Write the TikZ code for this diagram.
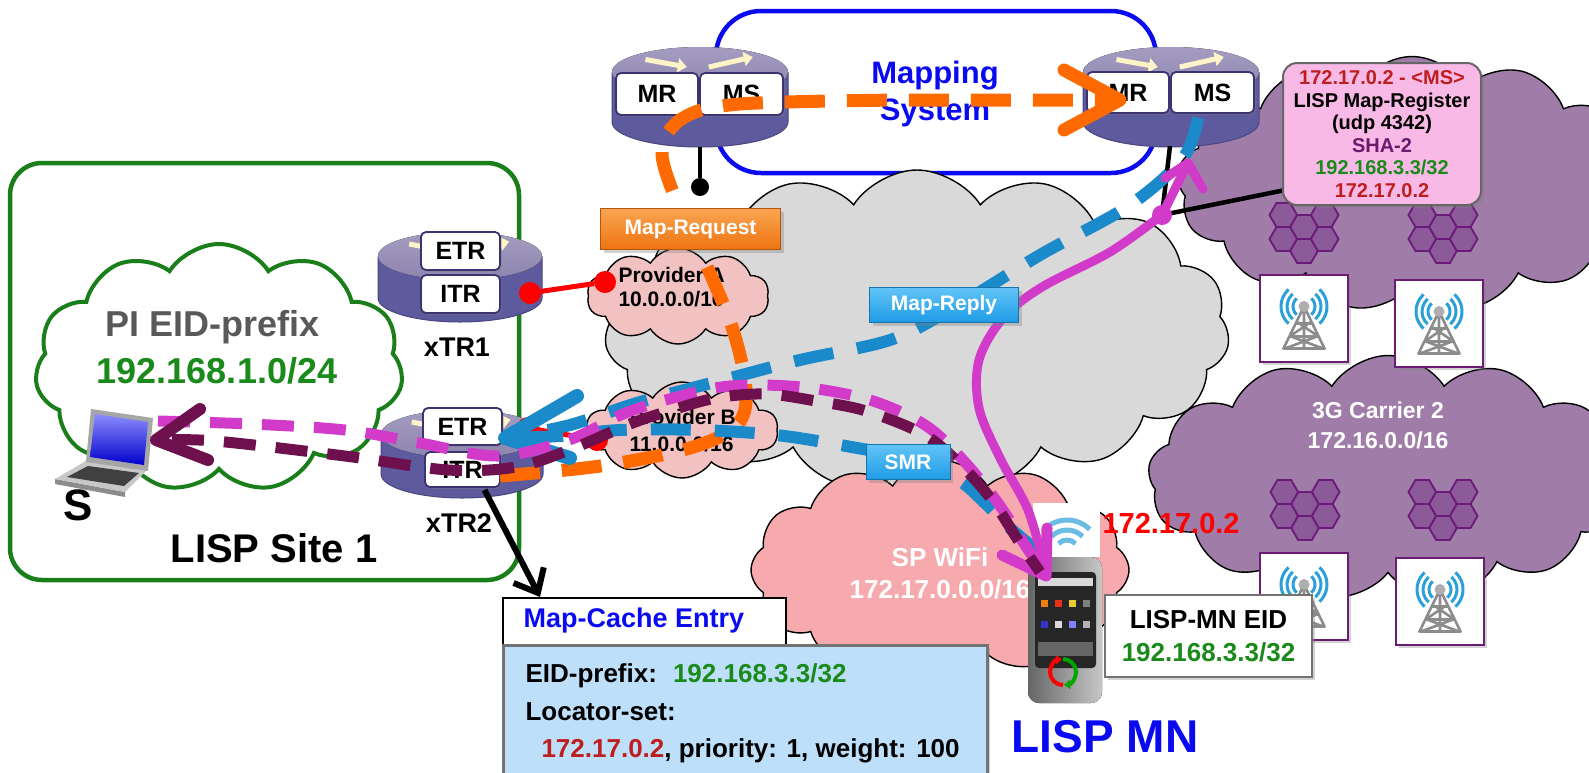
\documentclass[tikz,border=0pt]{standalone}
\usepackage{fontspec}
\setmainfont{Liberation Sans}
\usetikzlibrary{shapes.symbols,shadows,arrows.meta}

\definecolor{msblue}{HTML}{0A0AF0}
\definecolor{sitegreen}{HTML}{1A7F1A}
\definecolor{txtgreen}{HTML}{1A8A1A}
\definecolor{dkred}{HTML}{BE1E1E}
\definecolor{rtrside}{HTML}{5E5A9E}
\definecolor{rtredge}{HTML}{4A467F}
\definecolor{rtrtopA}{HTML}{A49CC0}
\definecolor{rtrtopB}{HTML}{8C84AE}
\definecolor{arrowylw}{HTML}{FFF4C8}
\definecolor{boxedge}{HTML}{3C3470}
\definecolor{grayc}{HTML}{D9D9D9}
\definecolor{provpink}{HTML}{F2C2C2}
\definecolor{wifipink}{HTML}{F6AAAD}
\definecolor{carrier}{HTML}{A07CA8}
\definecolor{hexfill}{HTML}{8C5A98}
\definecolor{hexedge}{HTML}{6A1B7A}
\definecolor{towerpurple}{HTML}{6C1D73}
\definecolor{regpink}{HTML}{F8B9E6}
\definecolor{shapurple}{HTML}{6B1A6B}
\definecolor{reqorange}{HTML}{FF6A00}
\definecolor{replyblue}{HTML}{1B8ACB}
\definecolor{datamag}{HTML}{D23BC9}
\definecolor{datapurple}{HTML}{6E0F4E}
\definecolor{cacheblue}{HTML}{BEDFFA}
\definecolor{lblorange}{HTML}{EE7410}
\definecolor{lblorangeT}{HTML}{FAA552}
\definecolor{lblblue}{HTML}{1E9BE6}
\definecolor{lblblueT}{HTML}{62C4F7}
\definecolor{wavblue}{HTML}{2AA0D8}
\definecolor{towergray}{HTML}{8C8C8C}
\definecolor{pigray}{HTML}{595959}

\newcommand\fsz[1]{\fontsize{#1}{#1}\selectfont\bfseries}
\newcommand\fszb[2]{\fontsize{#1}{#2}\selectfont\bfseries}

% router cylinder: centre x, top ellipse centre y, x radius, y radius, side height
\newcommand\routerbody[5]{%
  \fill[rtrside] (#1-#3,#2) -- (#1-#3,#2+#5)
    arc[start angle=180,end angle=0,x radius=#3,y radius=#4] -- (#1+#3,#2) -- cycle;
  \draw[rtredge,line width=1pt] (#1-#3,#2) -- (#1-#3,#2+#5)
    arc[start angle=180,end angle=0,x radius=#3,y radius=#4] -- (#1+#3,#2);
  \fill[top color=rtrtopA,bottom color=rtrtopB] (#1,#2) ellipse[x radius=#3,y radius=#4];
  \draw[arrowylw,line width=5pt,-{Triangle[length=9pt,width=14pt]}]
    (#1-0.62*#3,#2-0.5*#4) -- (#1-0.15*#3,#2-0.2*#4);
  \draw[arrowylw,line width=5pt,-{Triangle[length=9pt,width=14pt]}]
    (#1+0.1*#3,#2-0.2*#4) -- (#1+0.6*#3,#2-0.6*#4);
}

% cluster of six radio cells around a centre point
\newcommand\hexcluster[2]{%
  \begin{scope}[shift={(#1,#2)}]
    \foreach \dx/\dy in {-20.7/-18,-20.7/6,0/-6,0/18,20.7/-18,20.7/6}{
      \begin{scope}[shift={(\dx,\dy)}]
        \draw[hexcell] (0:13.8) -- (60:13.8) -- (120:13.8) -- (180:13.8)
          -- (240:13.8) -- (300:13.8) -- cycle;
      \end{scope}}
  \end{scope}}

% cell tower tile: left x, top y, node name
\newcommand\towertile[3]{%
  \node[draw=towerpurple,line width=2.5pt,fill=white,minimum width=88pt,
    minimum height=87pt,inner sep=0pt,softshadow] (#3) at (#1+44,#2+43.5) {};
  \begin{scope}[shift={(#1+44,#2+43.5)}]
    \foreach \r in {11,17,23}{
      \draw[wavblue,line width=3pt] (0,-12) ++(-48:\r) arc[start angle=-48,end angle=48,radius=\r];
      \draw[wavblue,line width=3pt] (0,-12) ++(132:\r) arc[start angle=132,end angle=228,radius=\r];}
    \draw[towergray,line width=2.6pt,line join=round]
      (-2,-8) -- (-21,31) (2,-8) -- (21,31)
      (-8,5) -- (8,5) (-14,18) -- (14,18) (-20,30) -- (20,30)
      (-6,4) -- (13,17) (6,4) -- (-13,17) (-13,18) -- (19,30) (13,18) -- (-19,30)
      (0,-8) -- (0,31);
    \fill[towergray!70!white] (0,-12) circle[radius=5.5];
  \end{scope}}

\begin{document}
\begin{tikzpicture}[x=1pt,y=-1pt,
  softshadow/.style={drop shadow={shadow xshift=3pt,shadow yshift=-3pt,opacity=.35}},
  rbox/.style={draw=boxedge,line width=1.8pt,fill=white,rounded corners=5pt,inner sep=0pt,
    font=\fsz{25},drop shadow={shadow xshift=2pt,shadow yshift=-2pt,opacity=.35}},
  cloudshape/.style={cloud,cloud puffs=#1,cloud puff arc=115,cloud ignores aspect,
    inner sep=0pt,draw=black,line width=1.4pt},
  reqline/.style={draw=reqorange,line width=13pt,dash pattern=on 40pt off 22pt},
  replyline/.style={draw=replyblue,line width=12pt,dash pattern=on 40pt off 24pt},
  magline/.style={draw=datamag,line width=11pt,dash pattern=on 32pt off 20pt},
  purpline/.style={draw=datapurple,line width=11pt,dash pattern=on 32pt off 20pt},
  chevron/.style={line width=#1,line cap=round,line join=round},
  lbl/.style 2 args={draw=#1!75!black,line width=1pt,top color=#2,bottom color=#1,
    text=white,font=\fsz{21},inner sep=0pt,softshadow},
  hexcell/.style={fill=hexfill,draw=hexedge,line width=1.8pt},
]
\useasboundingbox (0,0) rectangle (1589,772);
\clip (0,0) rectangle (1589,772);
\fill[white] (0,0) rectangle (1589,772);

% ---------- mapping system frame ----------
\draw[msblue,line width=4.5pt,rounded corners=45pt] (716,11) rectangle (1156,173);
\node[font=\fszb{31}{37},text=msblue,align=center] (mstext) at (935,94) {Mapping\\System};

% ---------- clouds ----------
\node[cloudshape=13,fill=carrier,minimum width=470pt,minimum height=255pt] (carrier1) at (1412,184) {};
\node[cloudshape=13,fill=carrier,minimum width=480pt,minimum height=245pt] (carrier2) at (1388,478) {};
\node[cloudshape=15,fill=grayc,minimum width=625pt,minimum height=320pt] (core) at (917,330) {};
\node[cloudshape=10,fill=provpink,minimum width=182pt,minimum height=96pt] (provA) at (678,296) {};
\node[cloudshape=10,fill=provpink,minimum width=192pt,minimum height=96pt] (provB) at (682,430) {};
\node[cloudshape=12,fill=wifipink,minimum width=378pt,minimum height=220pt] (spwifi) at (940,570) {};

\node[text=white,align=center,font=\fszb{23}{30}] (c2text) at (1378,425) {3G Carrier 2\\172.16.0.0/16};
\node[anchor=west,align=left,font=\fszb{21}{24}] (provAtext) at (615,287) {Provider A\\10.0.0.0/16};
\node[anchor=west,align=left,font=\fszb{21}{27}] (provBtext) at (626,431) {Provider B\\11.0.0.0/16};
\node[text=white,align=center,font=\fszb{26}{32}] (wifitext) at (940,573) {SP WiFi\\172.17.0.0.0/16};

% ---------- radio access ----------
\hexcluster{1304}{233}
\hexcluster{1443}{233}
\hexcluster{1305}{510}
\hexcluster{1443}{510}
\towertile{1260}{275}{towerA}
\towertile{1395}{280}{towerB}
\towertile{1260}{553}{towerC}
\towertile{1396}{558}{towerD}

% ---------- mapping system routers ----------
\routerbody{700}{72}{88}{25}{50}
\node[rbox,minimum width=82pt,minimum height=42pt] (mrL) at (657,94) {MR};
\node[rbox,minimum width=83pt,minimum height=42pt] (msL) at (741.5,94) {MS};
\routerbody{1171}{72}{88}{25}{50}
\node[rbox,minimum width=82pt,minimum height=41pt] (mrR) at (1128,92.5) {MR};
\node[rbox,minimum width=83pt,minimum height=41pt] (msR) at (1212.5,92.5) {MS};

% router attachments
\coordinate (attL) at (700,147);
\node[circle,fill=black,inner sep=0pt,minimum size=18pt] (dotL) at (700,187) {};
\draw[line width=4pt] (attL) -- (dotL);
\coordinate (attR) at (1170,146);
\coordinate (regjoin) at (1295,188);
\node[circle,fill=black,inner sep=0pt,minimum size=18pt] (dotR) at (1162,215) {};
\draw[line width=4.5pt] (attR) -- (dotR) -- (regjoin);

% ---------- map-register box ----------
\node[draw=black!60,line width=2pt,fill=regpink,rounded corners=14pt,minimum width=198pt,
  minimum height=142pt,align=center,font=\fszb{20}{22.5},softshadow] (regbox) at (1382,134)
  {{\color{dkred}172.17.0.2 - <MS>}\\LISP Map-Register\\(udp 4342)\\{\color{shapurple}SHA-2}\\
   {\color{txtgreen}192.168.3.3/32}\\{\color{dkred}172.17.0.2}};

% ---------- LISP site 1 ----------
\draw[sitegreen,line width=4.5pt,rounded corners=32pt] (10,163) rectangle (519,580);
\node[cloudshape=11,fill=white,draw=sitegreen,line width=4pt,minimum width=368pt,minimum height=248pt] (eidcloud) at (219,368) {};
\node[text=pigray,font=\fsz{36}] (pitext) at (213,327) {PI EID-prefix};
\node[text=txtgreen,font=\fsz{36}] (pinet) at (217,371) {192.168.1.0/24};
\node[font=\fsz{40}] (sitetext) at (274,548) {LISP Site 1};

\routerbody{460}{256}{82}{24}{42}
\node[rbox,minimum width=79pt,minimum height=38pt] (etr1) at (460.5,251) {ETR};
\node[rbox,minimum width=79pt,minimum height=38pt] (itr1) at (460.5,294) {ITR};
\node[font=\fsz{27}] (xtr1) at (457,347) {xTR1};
\routerbody{462}{434}{81}{24}{40}
\node[rbox,minimum width=79pt,minimum height=37pt] (etr2) at (462.5,426.5) {ETR};
\node[rbox,minimum width=75pt,minimum height=35pt] (itr2) at (462.5,469.5) {ITR};
\node[font=\fsz{27}] (xtr2) at (459,523) {xTR2};

% laptop S
\fill[black!45] (55,479) -- (125,492) -- (125,497) -- (55,484) -- cycle;
\fill[black!22] (86,461) -- (147,470) -- (125,492) -- (55,479) -- cycle;
\fill[black!75] (88,466) -- (139,473) -- (124,486) -- (67,477) -- cycle;
\fill[black!35] (91,409) -- (153,418) -- (148,471) -- (86,462) -- cycle;
\shade[top color=blue!45!white,bottom color=blue!80!black] (95,414) -- (148,422) -- (144,465) -- (90,457) -- cycle;
\node[font=\fsz{44}] (stext) at (78,505) {S};

% provider links
\node[circle,fill=red,inner sep=0pt,minimum size=22pt] (rA1) at (530,293) {};
\node[circle,fill=red,inner sep=0pt,minimum size=22pt] (rA2) at (605,282) {};
\draw[red,line width=5pt] (rA1) -- (rA2);
\node[circle,fill=red,inner sep=0pt,minimum size=22pt] (rB1) at (528,428) {};
\node[circle,fill=red,inner sep=0pt,minimum size=22pt] (rB2) at (597,440) {};
\draw[red,line width=5pt] (rB1) -- (rB2);

% ---------- map-cache entry ----------
\node[draw=black,line width=2.5pt,fill=white,minimum width=283pt,minimum height=47pt,inner sep=0pt] (mcehead) at (644.5,621.5) {};
\node[anchor=west,text=msblue,font=\fsz{27}] (mcetitle) at (520,621) {Map-Cache Entry};
\node[draw=black!55,line width=3pt,fill=cacheblue,minimum width=484pt,minimum height=150pt,inner sep=0pt,softshadow] (mcebody) at (745,720) {};
\node[anchor=base west,font=\fsz{26}] (mceline1) at (522,682) {EID-prefix:\hspace{16pt}{\color{txtgreen}192.168.3.3/32}};
\node[anchor=base west,font=\fsz{26}] (mceline2) at (522,720) {Locator-set:};
\node[anchor=base west,font=\fsz{26}] (mceline3) at (538,757) {{\color{dkred}172.17.0.2}, priority: 1, weight: 100};
\coordinate (cachetip) at (540,597);
\draw[line width=6pt,-{Straight Barb[length=20pt,width=34pt,line width=6pt]}] (itr2.south) ++(22,2) -- (cachetip);

% ---------- mobile node ----------
\fill[white] (1033,503) rectangle (1100,557);
\foreach \r in {12,22,32}
  \draw[wavblue!70,line width=5pt] (1067,552) ++(225:\r) arc[start angle=225,end angle=315,radius=\r];
\fill[rounded corners=11pt,left color=black!60,right color=black!22] (1028,557) rectangle (1102,703);
\fill[rounded corners=4pt,black!85] (1035,572) rectangle (1096,668);
\fill[black!15] (1038,578) rectangle (1093,586);
\foreach \ix/\c in {0/orange!70!brown,1/red!60!brown,2/yellow!60!brown,3/gray}
  \fill[\c] (1041+14*\ix,600) rectangle (1048+14*\ix,607);
\foreach \ix/\c in {0/blue!60!gray,1/white!70!gray,2/blue!50!white,3/gray!60}
  \fill[\c] (1041+14*\ix,621) rectangle (1048+14*\ix,628);
\fill[black!60] (1038,642) rectangle (1093,656);
\draw[red,line width=4pt,-{Triangle[length=6pt,width=9pt]}] (1063,672) ++(90:13) arc[start angle=90,end angle=265,radius=13];
\draw[green!65!black,line width=4pt,-{Triangle[length=6pt,width=9pt]}] (1063,672) ++(-90:13) arc[start angle=-90,end angle=85,radius=13];
\coordinate (phone) at (1046,576);
\node[anchor=west,text=red,font=\fsz{29}] (mnrloc) at (1099,524) {172.17.0.2};
\node[draw=black!55,line width=2pt,fill=white,minimum width=207pt,minimum height=82pt,align=center,
  font=\fszb{26}{33},softshadow] (mneid) at (1208.5,636) {LISP-MN EID\\{\color{txtgreen}192.168.3.3/32}};
\node[text=msblue,font=\fsz{46}] (mnlabel) at (1105,737) {LISP MN};

% ---------- Map-Request path ----------
\coordinate (rq0) at (500,476);
\coordinate (rq1) at (600,466);
\coordinate (rq2) at (690,448);
\coordinate (rq3) at (737,425);
\coordinate (rq4) at (746,390);
\coordinate (rq5) at (733,330);
\coordinate (rq6) at (705,262);
\coordinate (rq7) at (676,200);
\coordinate (rq8) at (662,150);
\coordinate (rq9) at (683,118);
\coordinate (rq10) at (740,104);
\coordinate (rq11) at (900,100);
\coordinate (rqtip) at (1120,100);
\draw[reqline] plot[smooth,tension=0.55] coordinates {(rq0) (rq1) (rq2) (rq3) (rq4) (rq5) (rq6) (rq7) (rq8) (rq9) (rq10) (rq11)} -- (1112,100);
\draw[reqorange,chevron=13pt] (1064,70) -- (rqtip) -- (1064,130);

% ---------- Map-Reply and SMR paths ----------
\coordinate (rp0) at (1198,118);
\coordinate (rp1) at (1183,158);
\coordinate (rp2) at (1130,205);
\coordinate (rp3) at (1040,255);
\coordinate (rp4) at (950,310);
\coordinate (rp5) at (890,340);
\coordinate (rp6) at (800,360);
\coordinate (rp7) at (723,380);
\coordinate (rp8) at (640,402);
\coordinate (rp9) at (570,425);
\coordinate (replytip) at (505,438);
\draw[replyline] plot[smooth,tension=0.55] coordinates {(rp0) (rp1) (rp2) (rp3) (rp4) (rp5) (rp6) (rp7) (rp8) (rp9) (replytip)};
\coordinate (sm0) at (1040,553);
\coordinate (sm1) at (1010,528);
\coordinate (sm2) at (985,503);
\coordinate (sm3) at (955,478);
\coordinate (sm4) at (900,457);
\coordinate (sm5) at (840,445);
\coordinate (sm6) at (776,435);
\coordinate (sm7) at (700,430);
\coordinate (sm8) at (620,430);
\coordinate (sm9) at (560,436);
\draw[replyline] plot[smooth,tension=0.55] coordinates {(sm0) (sm1) (sm2) (sm3) (sm4) (sm5) (sm6) (sm7) (sm8) (sm9) (replytip)};
\draw[replyblue,chevron=14pt] (577,396) -- (replytip) -- (570,458);

% ---------- Map-Register path ----------
\coordinate (mr0) at (1044,566);
\coordinate (mr1) at (1028,510);
\coordinate (mr2) at (1000,458);
\coordinate (mr3) at (979,408);
\coordinate (mr4) at (979,360);
\coordinate (mr5) at (1003,318);
\coordinate (mr6) at (1042,287);
\coordinate (mr7) at (1110,252);
\coordinate (regtip) at (1188,163);
\draw[datamag,line width=9pt,line cap=round] plot[smooth,tension=0.55] coordinates {(mr0) (mr1) (mr2) (mr3) (mr4) (mr5) (mr6) (mr7) (dotR)} -- (regtip);
\fill[datamag] (dotR) circle[radius=10];
\draw[datamag,chevron=9pt] (1165,178) -- (regtip) -- (1203,189);

% ---------- data traffic S <-> MN ----------
\coordinate (md0) at (158,421);
\coordinate (md1) at (250,424);
\coordinate (md2) at (345,430);
\coordinate (md3) at (420,443);
\coordinate (md4) at (498,456);
\coordinate (md5) at (569,440);
\coordinate (md6) at (623,414);
\coordinate (md7) at (673,398);
\coordinate (md8) at (730,386);
\coordinate (md9) at (801,387);
\coordinate (md10) at (870,400);
\coordinate (md11) at (925,425);
\coordinate (md12) at (963,460);
\coordinate (md13) at (998,503);
\coordinate (md14) at (1025,545);
\draw[magline] plot[smooth,tension=0.55] coordinates {(md0) (md1) (md2) (md3) (md4) (md5) (md6) (md7) (md8) (md9) (md10) (md11) (md12) (md13) (md14) (phone)};
\draw[datamag,chevron=11pt] (1002,555) -- (phone) -- (1047,528);

\coordinate (dp0) at (1040,572);
\coordinate (dp1) at (1018,540);
\coordinate (dp2) at (992,500);
\coordinate (dp3) at (959,463);
\coordinate (dp4) at (923,434);
\coordinate (dp5) at (866,411);
\coordinate (dp6) at (816,401);
\coordinate (dp7) at (766,394);
\coordinate (dp8) at (716,398);
\coordinate (dp9) at (669,411);
\coordinate (dp10) at (630,424);
\coordinate (dp11) at (569,450);
\coordinate (dp12) at (516,467);
\coordinate (dp13) at (448,470);
\coordinate (dp14) at (345,456);
\coordinate (dp15) at (215,441);
\coordinate (sTip) at (156,440);
\draw[purpline,dash phase=14pt] plot[smooth,tension=0.55] coordinates {(dp0) (dp1) (dp2) (dp3) (dp4) (dp5) (dp6) (dp7) (dp8) (dp9) (dp10) (dp11) (dp12) (dp13) (dp14) (dp15) (sTip)};
\draw[datapurple,chevron=12pt] (200,409) -- (sTip) -- (208,460);

% ---------- message labels ----------
\node[lbl={lblorange}{lblorangeT},minimum width=180pt,minimum height=41pt] (reqlbl) at (690.5,229) {Map-Request};
\node[lbl={lblblue}{lblblueT},minimum width=149pt,minimum height=35pt] (replbl) at (944,305) {Map-Reply};
\node[lbl={lblblue}{lblblueT},minimum width=84pt,minimum height=35pt] (smrlbl) at (908,462) {SMR};

\end{tikzpicture}
\end{document}
